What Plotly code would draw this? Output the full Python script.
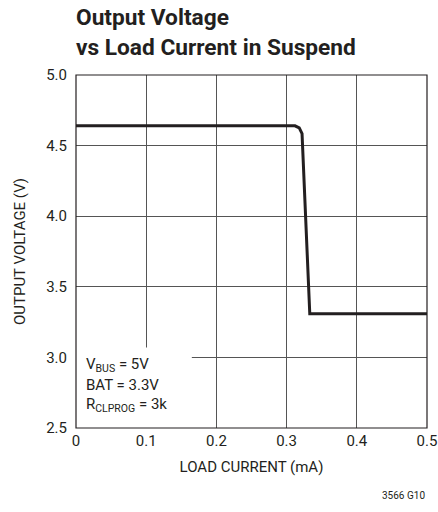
import plotly.graph_objects as go

current_ma = [0.0, 0.312, 0.318, 0.322, 0.333, 0.5]
voltage_v = [4.64, 4.64, 4.625, 4.585, 3.31, 3.31]
x_ticks = [0, 0.1, 0.2, 0.3, 0.4, 0.5]
x_tick_text = ["0", "0.1", "0.2", "0.3", "0.4", "0.5"]
y_ticks = [2.5, 3.0, 3.5, 4.0, 4.5, 5.0]
y_tick_text = ["2.5", "3.0", "3.5", "4.0", "4.5", "5.0"]

FONT = "Roboto, Liberation Sans, sans-serif"
INK = "#231f20"

fig = go.Figure()
fig.add_trace(go.Scatter(x=current_ma, y=voltage_v, mode="lines",
                         line=dict(color=INK, width=3), showlegend=False))

# white box behind annotation text
fig.add_shape(type="rect", xref="x", yref="y", x0=0, x1=0.165, y0=2.5, y1=3.07,
              fillcolor="white", line=dict(width=0), layer="above")
fig.add_shape(type="rect", xref="paper", yref="paper", x0=0, x1=1, y0=0, y1=1,
              line=dict(color=INK, width=1.2), layer="above")

for yv, txt in [(2.945, "V<sub>BUS</sub> = 5V"), (2.805, "BAT = 3.3V"), (2.66, "R<sub>CLPROG</sub> = 3k")]:
    fig.add_annotation(xref="x", yref="y", x=0.012, y=yv, xanchor="left", yanchor="middle",
                       text=txt, showarrow=False,
                       font=dict(family=FONT, size=15, color=INK))

fig.add_annotation(xref="paper", yref="paper", x=1.0, y=-0.19, xanchor="right", yanchor="middle",
                   text="3566 G10", showarrow=False,
                   font=dict(family=FONT, size=10, color=INK))

fig.add_annotation(xref="paper", yref="paper", x=-0.006, y=1 + 12/353, xanchor="left", yanchor="bottom",
                   text="<b>Output Voltage<br>vs Load Current in Suspend</b>", showarrow=False, align="left",
                   font=dict(family=FONT, size=22.7, color=INK))

fig.update_layout(
    width=438, height=512,
    margin=dict(l=76, r=11, t=75, b=84, autoexpand=False),
    paper_bgcolor="white", plot_bgcolor="white",
    font=dict(family=FONT, color=INK),
    xaxis=dict(range=[0, 0.5], tickvals=x_ticks, ticktext=x_tick_text,
               showgrid=True, gridcolor="#555555", gridwidth=1, automargin=False,
               ticks="", zeroline=False, showline=False, ticklabelstandoff=2,
               tickfont=dict(family=FONT, size=15, color=INK),
               title=dict(text="LOAD CURRENT (mA)", font=dict(family=FONT, size=15, color=INK), standoff=12)),
    yaxis=dict(range=[2.5, 5.0], tickvals=y_ticks, ticktext=y_tick_text,
               showgrid=True, gridcolor="#555555", gridwidth=1, automargin=False,
               ticks="", zeroline=False, showline=False, ticklabelstandoff=8,
               tickfont=dict(family=FONT, size=15, color=INK),
               title=dict(text="OUTPUT VOLTAGE (V)", font=dict(family=FONT, size=15, color=INK), standoff=16)),
)

# remove the default 8px page margin so the figure fills the window exactly
fig.write_html("out.html", config={"displayModeBar": False},
               post_script="document.body.style.margin='0';document.body.style.overflow='hidden';")
